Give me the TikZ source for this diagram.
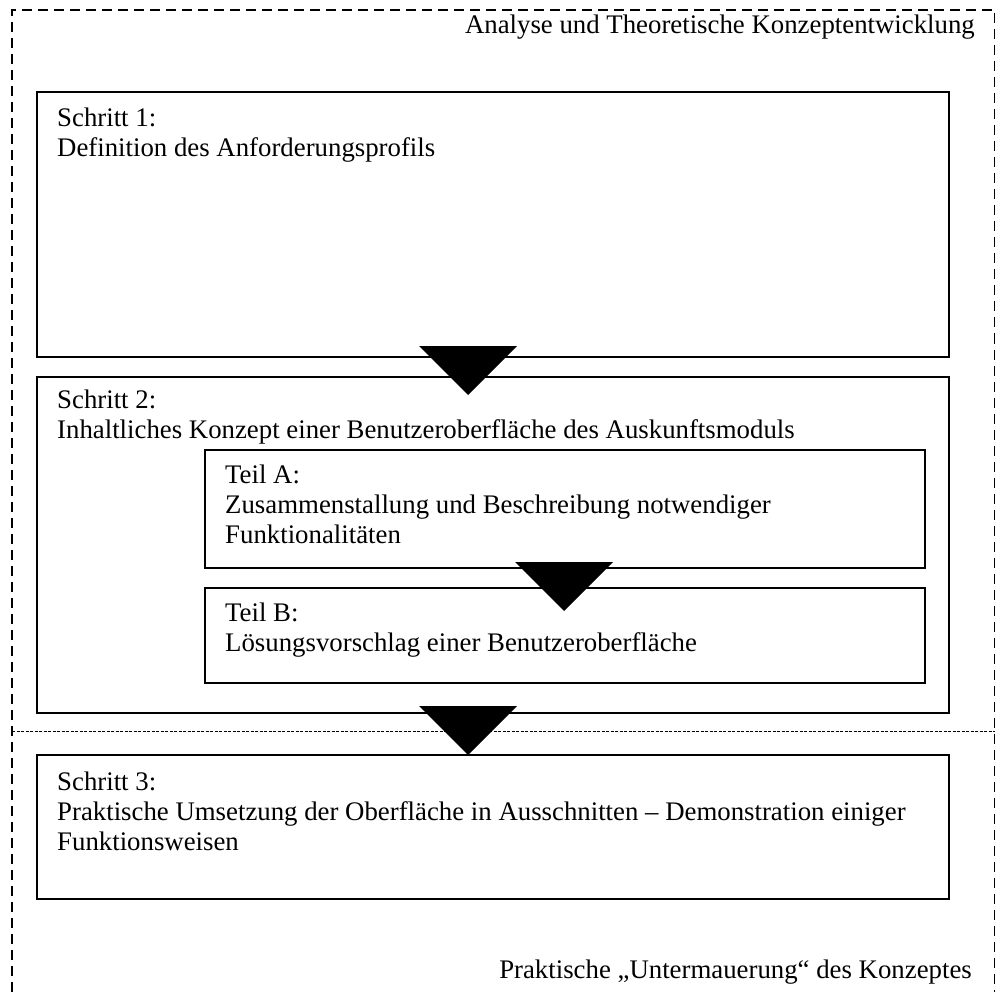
\documentclass[tikz,border=0pt]{standalone}
\usepackage{fontspec}
\setmainfont{Liberation Serif}
\begin{document}
\begin{tikzpicture}[x=1pt,y=-1pt,
  box/.style={draw, line width=1.6pt, inner sep=0pt, anchor=north west},
  txt/.style={anchor=base west, align=left, inner sep=0pt, font=\fontsize{26.8}{30}\selectfont},
  lbl/.style={anchor=base east, inner sep=0pt, font=\fontsize{26.8}{30}\selectfont},
  tri/.style={fill=black},
  frame/.style={line width=1.1pt, dash pattern=on 10pt off 6pt},
  mid/.style={line width=0.9pt, dash pattern=on 3pt off 1.5pt}]
\useasboundingbox (0,0) rectangle (996,992);
% outer frames
\draw[frame] (12,992) -- (12,10) -- (994.5,10) -- (994.5,992);
\draw[mid] (12,731) -- (994.5,731);
\node[lbl] (top) at (975,34) {Analyse und Theoretische Konzeptentwicklung};
\node[lbl] (bot) at (972,978) {Praktische „Untermauerung“ des Konzeptes};
% boxes
\node[box, minimum width=912pt, minimum height=265pt] (s1) at (36,91) {};
\node[box, minimum width=912pt, minimum height=336pt] (s2) at (36,376) {};
\node[box, minimum width=720pt, minimum height=118pt] (ta) at (204,449) {};
\node[box, minimum width=720pt, minimum height=95pt] (tb) at (204,587) {};
\node[box, minimum width=912pt, minimum height=144pt] (s3) at (36,754) {};
% texts (base anchor = baseline of last line)
\node[txt] (s1t) at (57,157) {Schritt 1:\\Definition des Anforderungsprofils};
\node[txt] (s2t) at (57,438) {Schritt 2:\\Inhaltliches Konzept einer Benutzeroberfläche des Auskunftsmoduls};
\node[txt] (tat) at (225,543) {Teil A:\\Zusammenstallung und Beschreibung notwendiger\\Funktionalitäten};
\node[txt] (tbt) at (225,651) {Teil B:\\Lösungsvorschlag einer Benutzeroberfläche};
\node[txt] (s3t) at (57,850) {Schritt 3:\\Praktische Umsetzung der Oberfläche in Ausschnitten – Demonstration einiger\\Funktionsweisen};
% arrows (triangles)
\fill[tri] (419,346) -- (517,346) -- (468,395) -- cycle;
\fill[tri] (515,562) -- (613,562) -- (564,611) -- cycle;
\fill[tri] (419,706) -- (517,706) -- (468,755) -- cycle;
\end{tikzpicture}
\end{document}
